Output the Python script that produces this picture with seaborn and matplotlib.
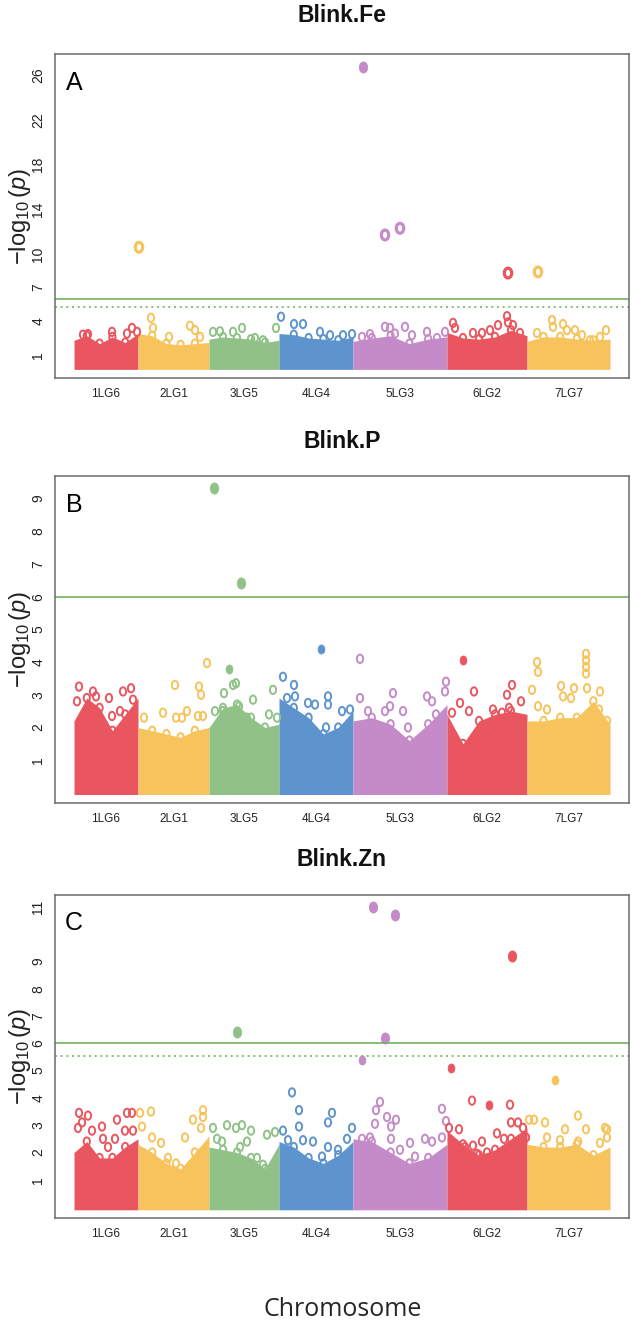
import numpy as np
import pandas as pd
import matplotlib
matplotlib.use("Agg")
import matplotlib.pyplot as plt
import seaborn as sns
from matplotlib.path import Path
from matplotlib.transforms import Affine2D

sns.set_style("white")
plt.rcParams["font.family"] = ["Liberation Sans", "DejaVu Sans"]
plt.rcParams["mathtext.fontset"] = "custom"
plt.rcParams["mathtext.rm"] = "Liberation Sans"
plt.rcParams["mathtext.it"] = "Liberation Sans:italic"

# chromosomes (relative lengths)
chromosomes = ["1LG6", "2LG1", "3LG5", "4LG4", "5LG3", "6LG2", "7LG7"]
chrom_sizes = [64, 71, 70, 74, 94, 80, 83]
chrom_colors = ["#E9565F", "#F7C35C", "#90C288", "#5E94CD", "#C58BC8", "#E9565F", "#F7C35C"]

# top of the dense SNP cloud, six readings per chromosome
fe_band = [[2.3, 2.7, 2.0, 2.6, 2.1, 2.9], [2.9, 2.7, 2.0, 1.9, 2.0, 2.1],
           [2.4, 2.6, 2.5, 2.4, 2.1, 2.3], [2.9, 2.8, 2.5, 2.4, 2.3, 2.6],
           [2.2, 2.5, 2.7, 2.0, 2.4, 2.6], [3.0, 2.5, 2.4, 2.6, 3.2, 2.7],
           [2.2, 2.6, 2.6, 2.4, 2.3, 2.4]]
p_band = [[2.2, 2.9, 2.6, 1.9, 2.4, 2.9], [2.0, 1.9, 1.8, 1.7, 1.9, 2.0],
          [2.0, 2.6, 2.7, 2.3, 2.0, 2.1], [2.9, 2.6, 2.3, 1.8, 2.0, 2.5],
          [2.2, 2.3, 2.1, 1.6, 2.1, 2.7], [2.4, 1.5, 2.2, 2.4, 2.5, 2.4],
          [2.2, 2.2, 2.3, 2.3, 2.8, 2.1]]
zn_band = [[2.0, 2.4, 1.8, 1.8, 2.2, 2.5], [2.3, 2.0, 1.6, 1.4, 2.0, 2.6],
           [2.2, 2.1, 2.0, 1.8, 1.4, 2.3], [2.4, 2.2, 1.8, 1.6, 1.9, 2.4],
           [2.5, 2.4, 2.0, 1.6, 1.8, 2.3], [2.8, 2.3, 1.9, 2.1, 2.5, 2.9],
           [2.3, 2.2, 2.2, 2.3, 1.9, 2.2]]

# single SNPs standing out of the cloud: (position, -log10 p)
fe_rings = [(9, 2.8), (14, 2.85), (38, 3.05), (53, 2.9), (58, 3.4), (63, 3.05),
            (77, 4.3), (79, 3.4), (95, 2.6), (116, 3.6), (121, 3.2), (126, 2.6),
            (139, 3.05), (146, 3.1), (159, 3.05), (168, 3.4), (181, 2.5), (189, 2.3), (202, 3.4),
            (207, 4.4), (220, 3.75), (229, 3.75), (246, 3.05), (256, 2.75), (269, 2.75), (278, 2.85),
            (288, 2.6), (296, 2.85), (311, 3.5), (316, 3.4), (321, 2.9), (331, 3.5), (338, 2.75),
            (353, 3.05), (363, 2.5), (371, 3.05),
            (379, 3.85), (381, 3.4), (399, 2.95), (408, 2.95), (416, 3.2), (424, 3.65),
            (433, 4.45), (434, 3.9), (439, 3.65), (446, 2.95),
            (463, 2.95), (478, 4.1), (479, 3.5), (489, 3.75), (493, 3.2), (501, 3.2),
            (508, 2.75), (516, 2.3), (526, 2.6), (532, 3.2)]
fe_bigrings = [(65, 10.6), (311, 11.7), (326, 12.3), (434, 8.3), (464, 8.4)]
fe_dots = []
fe_hits = [(289, 26.7)]

p_rings = [(5, 3.25), (3, 2.8), (19, 3.1), (22, 2.95), (35, 2.9), (38, 2.35), (49, 3.1),
           (57, 3.2), (59, 2.85), (46, 2.5),
           (70, 2.3), (89, 2.45), (101, 3.3), (102, 2.3), (108, 2.3), (113, 2.5), (125, 3.25),
           (127, 3.0), (133, 3.97), (124, 2.35), (129, 2.35),
           (159, 3.3), (162, 3.35), (150, 3.05), (141, 2.5), (149, 2.5), (165, 2.65), (179, 2.85),
           (173, 2.3), (195, 2.4), (199, 3.15), (203, 2.3),
           (209, 3.55), (220, 3.3), (221, 2.95), (213, 2.9), (234, 2.75), (241, 2.7), (254, 2.95),
           (254, 2.7), (268, 2.5), (276, 2.55), (252, 2.0),
           (286, 4.1), (286, 2.9), (294, 2.5), (319, 3.05), (316, 2.65), (311, 2.5), (329, 2.5),
           (353, 2.95), (358, 2.8), (362, 2.4), (372, 3.4), (371, 3.1), (334, 2.0),
           (386, 2.75), (395, 2.5), (400, 3.1), (438, 3.3), (433, 3.0), (447, 2.8), (435, 2.6),
           (419, 2.55), (428, 2.45), (378, 2.45),
           (463, 4.0), (464, 3.7), (458, 3.15), (487, 3.27), (500, 3.2), (512, 4.25), (512, 4.05),
           (512, 3.85), (512, 3.65), (513, 3.2), (526, 3.1), (489, 2.95), (497, 2.9), (473, 2.55),
           (464, 2.65), (525, 2.55), (533, 2.2)]
p_bigrings = []
p_dots = [(155, 3.8), (247, 4.4), (389, 4.05)]
p_hits = [(140, 9.33), (167, 6.42)]

zn_rings = [(5, 3.45), (14, 3.35), (8, 3.1), (4, 2.9), (18, 2.8), (28, 2.95), (29, 2.5), (43, 3.2),
            (41, 2.5), (53, 3.45), (58, 3.45), (51, 2.8), (59, 2.8), (34, 2.2),
            (66, 3.45), (77, 3.5), (68, 2.95), (78, 2.55), (87, 2.35), (94, 1.8), (102, 1.6),
            (111, 2.55), (119, 3.2), (129, 3.55), (129, 3.3), (127, 2.9),
            (139, 2.9), (153, 3.0), (162, 2.9), (168, 3.0), (143, 2.5), (148, 2.4), (166, 2.2),
            (173, 2.4), (177, 2.8), (193, 2.65), (201, 2.75), (183, 1.8), (189, 1.55),
            (218, 4.2), (225, 3.55), (225, 2.95), (209, 2.8), (214, 2.45), (229, 2.45), (239, 2.4),
            (254, 3.1), (258, 3.45), (264, 2.1), (273, 2.5), (278, 2.9), (254, 2.2), (248, 1.85),
            (302, 3.55), (306, 3.85), (301, 3.05), (313, 3.3), (322, 3.2), (317, 2.95), (317, 2.5),
            (288, 2.5), (296, 2.55), (336, 2.35), (341, 1.85), (351, 2.5), (358, 2.4), (368, 3.6),
            (372, 3.15), (368, 2.55), (326, 2.1),
            (375, 2.9), (385, 2.85), (391, 2.2), (399, 2.25), (408, 2.4), (423, 2.7), (430, 2.5),
            (437, 3.1), (444, 3.1), (449, 2.9), (452, 2.55), (403, 1.95), (413, 2.0), (398, 3.9),
            (436, 3.75),
            (455, 3.2), (460, 3.2), (471, 3.1), (504, 3.35), (491, 2.85), (512, 2.85), (531, 2.9),
            (533, 2.85), (533, 2.55), (473, 2.55), (486, 2.45), (504, 2.4), (526, 2.35)]
zn_bigrings = []
zn_dots = [(415, 3.75), (377, 5.1), (481, 4.65), (288, 5.4)]
zn_hits = [(163, 6.4), (299, 11.0), (321, 10.7), (438, 9.2), (311, 6.2)]

fe_ticks = [1, 4, 7, 10, 14, 18, 22, 26]
p_ticks = [1, 2, 3, 4, 5, 6, 7, 8, 9]
zn_ticks = [1, 2, 3, 4, 5, 6, 7, 8, 9, 11]
fe_lines = [6.0, 5.3]
p_lines = [6.0]
zn_lines = [6.0, 5.55]

ends = np.cumsum(chrom_sizes)
starts = ends - np.array(chrom_sizes)
mids = starts + np.array(chrom_sizes) / 2

oval = Path.unit_circle().transformed(Affine2D().scale(0.75, 1.0))
green = "#74B266"

# marker size, filled?, edge width for each kind of point
styles = {"ring": (36, False, 1.4), "bigring": (50, False, 2.3),
          "dot": (42, True, 0.6), "hit": (64, True, 0.6)}


def to_frame(points, kind):
    df = pd.DataFrame(points, columns=["pos", "logp"])
    df["chrom"] = np.searchsorted(ends, df["pos"], side="right")
    df["kind"] = kind
    return df


def draw_panel(ax, band, groups, ylim, ticks, lines, floor, letter):
    edge = []
    for i, tops in enumerate(band):
        xs = np.linspace(starts[i], ends[i], len(tops))
        ax.fill_between(xs, floor, tops, color=chrom_colors[i], lw=0)
        # the cloud edge is made of overlapping open circles as well
        edge += [(x, t) for x, t in zip(xs[1:-1], tops[1:-1])]
    for y, ls in zip(lines, ["-", (0, (1.2, 2.2))]):
        ax.axhline(y, color=green, lw=1.2, ls=ls)
    groups = dict(groups, ring=groups["ring"] + edge)
    df = pd.concat([to_frame(pts, kind) for kind, pts in groups.items() if pts])
    for (ci, kind), sub in df.groupby(["chrom", "kind"]):
        c = chrom_colors[ci]
        s, filled, lw = styles[kind]
        sns.scatterplot(data=sub, x="pos", y="logp", ax=ax, marker=oval, s=s,
                        color=c, facecolor=c if filled else "none", edgecolor=c, linewidth=lw)
    ax.set_xlim(-19, ends[-1] + 19)
    ax.set_ylim(*ylim)
    ax.set_xticks(mids)
    ax.set_xticklabels(chromosomes, fontsize=8.5, color="#222222")
    ax.set_yticks(ticks)
    ax.set_yticklabels([str(t) for t in ticks], fontsize=10, color="#222222",
                       rotation=90, va="center")
    ax.tick_params(axis="x", length=0, pad=7)
    ax.tick_params(axis="y", length=0, pad=7)
    ax.set_xlabel("")
    ax.set_ylabel("")
    for sp in ax.spines.values():
        sp.set_color("#6b6b6b")
        sp.set_linewidth(1.1)
    ax.text(0.033, 0.912, letter, transform=ax.transAxes, fontsize=18,
            ha="center", va="center", color="black")


W, H = 633, 1320
fig = plt.figure(figsize=(W / 100, H / 100), dpi=100)

panels = [
    ("Blink.Fe", fe_band, {"ring": fe_rings, "bigring": fe_bigrings, "dot": fe_dots, "hit": fe_hits},
     (-1.07, 27.86), fe_ticks, fe_lines, -0.3, "A", 54, 378, 16),
    ("Blink.P", p_band, {"ring": p_rings, "bigring": p_bigrings, "dot": p_dots, "hit": p_hits},
     (-0.31, 9.69), p_ticks, p_lines, -0.05, "B", 476, 803, 441),
    ("Blink.Zn", zn_band, {"ring": zn_rings, "bigring": zn_bigrings, "dot": zn_dots, "hit": zn_hits},
     (-0.40, 11.43), zn_ticks, zn_lines, -0.1, "C", 895, 1218, 859),
]

for title, band, groups, ylim, ticks, lines, floor, letter, top, bottom, ty in panels:
    ax = fig.add_axes([55 / W, 1 - bottom / H, 574 / W, (bottom - top) / H])
    draw_panel(ax, band, groups, ylim, ticks, lines, floor, letter)
    fig.text(342 / W, 1 - ty / H, title, ha="center", va="center", fontsize=16.5,
             fontweight="bold", color="#111111")
    fig.text(20 / W, 1 - (top + bottom) / 2 / H, r"$-\log_{10}(p)$", rotation=90,
             ha="center", va="center", fontsize=17, color="#222222")

fig.text(343 / W, 1 - 1309 / H, "Chromosome", ha="center", va="center", fontsize=18,
         family=["Open Sans", "DejaVu Sans"])

fig.savefig("out.png", dpi=100)
